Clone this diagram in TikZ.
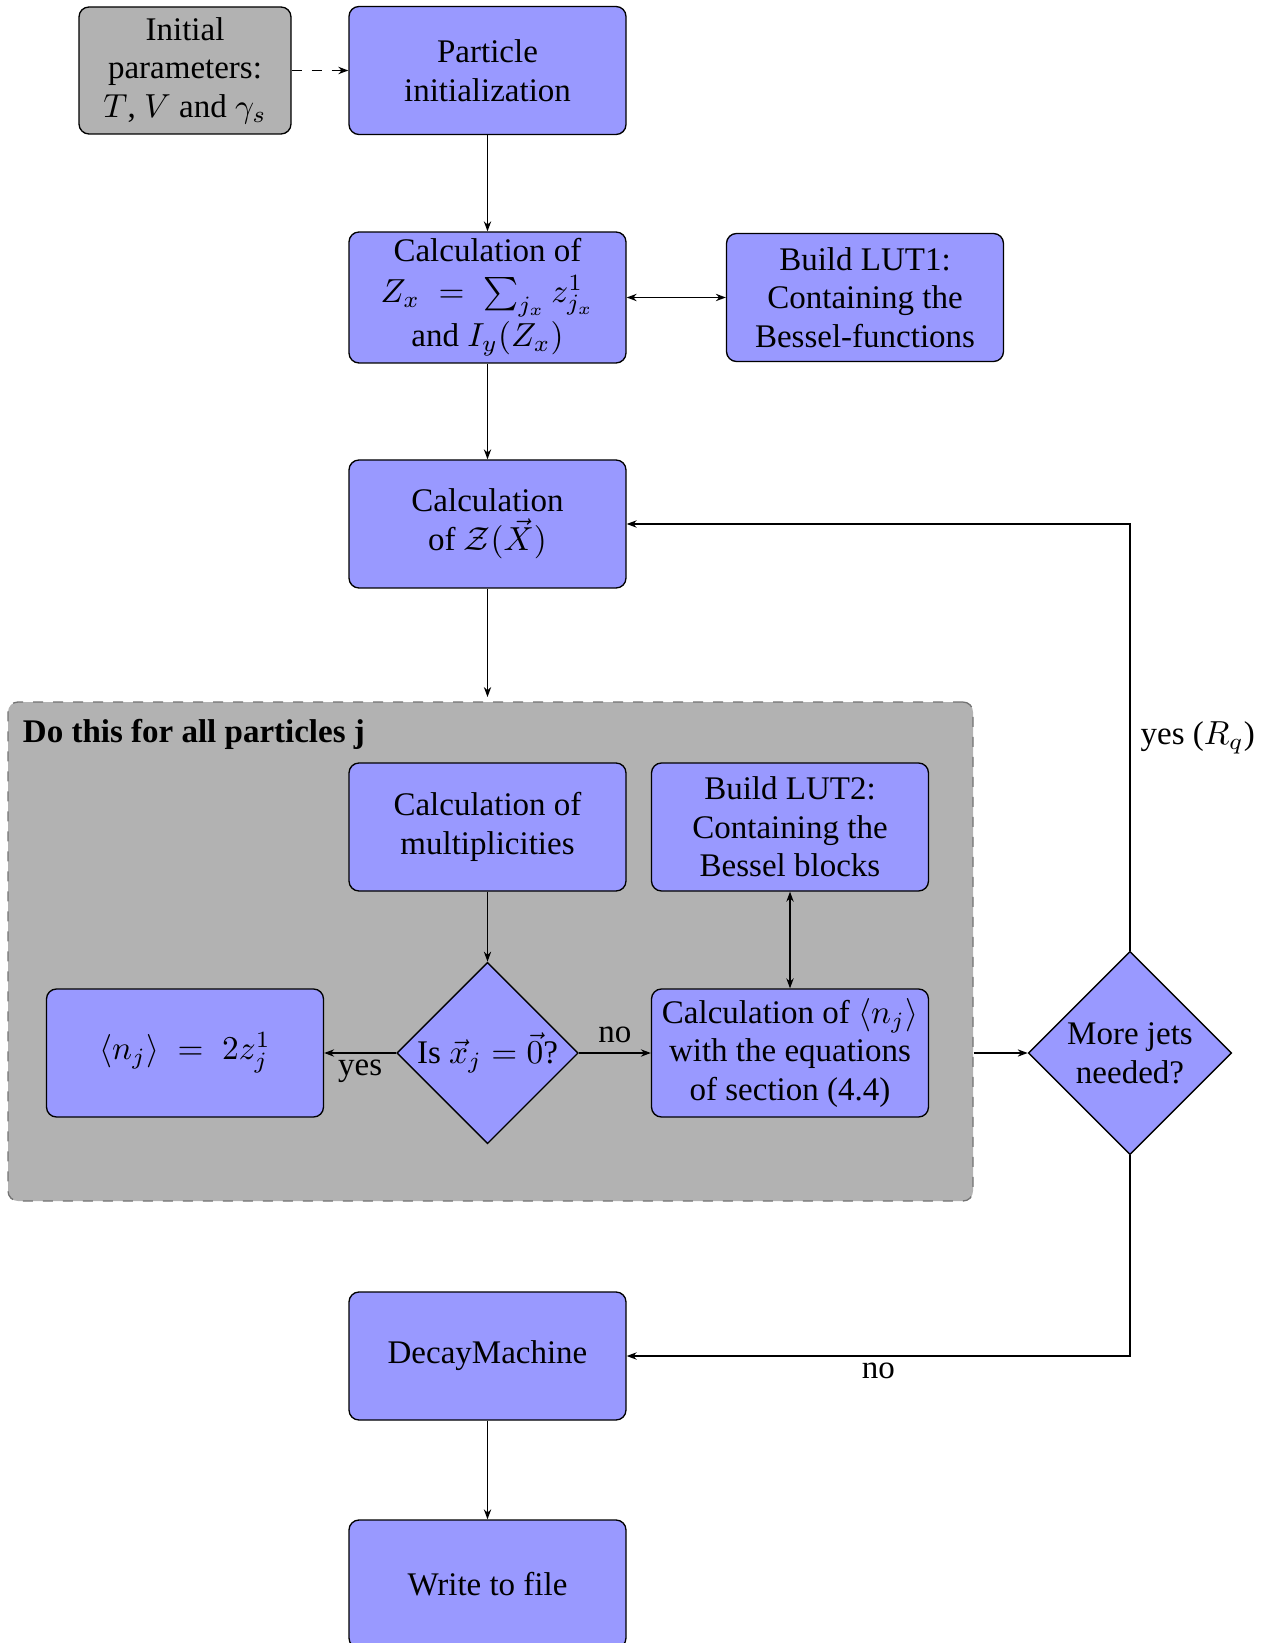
\documentclass[tikz,border=0pt]{standalone}
\usepackage[no-math]{fontspec}
\setmainfont{Liberation Serif}
\usetikzlibrary{shapes.geometric,arrows.meta}
\begin{document}
\begin{tikzpicture}[x=0.3pt,y=-0.3pt,
  font=\fontsize{9.9}{11.6}\selectfont,
  arr/.style={-{Stealth[length=3pt,width=2.2pt]}},
  darr/.style={{Stealth[length=3pt,width=2.2pt]}-{Stealth[length=3pt,width=2.2pt]}},
  box/.style={draw, rounded corners=3pt, fill=blue!40, minimum width=83.1pt, minimum height=38.4pt, align=center, inner sep=2pt},
  graybox/.style={draw, rounded corners=3pt, fill=gray!60, minimum width=63.6pt, minimum height=38.1pt, align=center, inner sep=2pt},
  dec/.style={draw, diamond, aspect=1, fill=blue!40, align=center, inner sep=0pt},
  region/.style={draw=gray!90!black, dashed, rounded corners=3pt, fill=gray!60, minimum width=289.5pt, minimum height=149.7pt}
]
\useasboundingbox (0,0) rectangle (1265,1643);

\node[region] (region) at (490.5,951.5) {};
\node[anchor=west, inner sep=1pt, font=\fontsize{9.9}{12}\selectfont\bfseries] (title) at (19,734) {Do this for all particles j};

\node[graybox] (init) at (185,70.5) {Initial\\parameters:\\$T$, $V$ and $\gamma_s$};
\node[box] (part) at (487.5,70.5) {Particle\\initialization};
\node[box] (zx) at (487.5,297.5) {Calculation of\\[0.5pt]$Z_x\;=\;\sum_{j_x} z_{j_x}^1$\\[0.5pt]and $I_y(Z_x)$};
\node[box] (lut1) at (865,297.5) {Build LUT1:\\Containing the\\Bessel-functions};
\node[box] (zX) at (487.5,524) {Calculation\\of $\mathcal{Z}(\vec{X})$};
\node[box] (mult) at (487.5,827) {Calculation of\\multiplicities};
\node[box] (lut2) at (790,827) {Build LUT2:\\Containing the\\Bessel blocks};
\node[box] (nj) at (185,1053) {$\langle n_j\rangle\;=\;2z_j^1$};
\node[dec, minimum size=54pt] (isx) at (487.5,1053) {Is $\vec{x}_j=\vec{0}$?};
\node[box] (cnj) at (790,1053) {Calculation of $\langle n_j\rangle$\\with the equations\\of section (4.4)};
\node[dec, minimum size=61pt] (jets) at (1130,1053) {More jets\\needed?};
\node[box] (decay) at (487.5,1356) {DecayMachine};
\node[box] (write) at (487.5,1584) {Write to file};

\coordinate (rtop) at (487.5,697);

\draw[arr, dashed] (init) -- (part);
\draw[arr] (part) -- (zx);
\draw[darr] (zx) -- (lut1);
\draw[arr] (zx) -- (zX);
\draw[arr] (zX) -- (rtop);
\draw[arr] (mult) -- (isx);
\draw[arr] (isx) -- node[below, inner sep=2pt] {yes} (nj);
\draw[arr] (isx) -- node[above, inner sep=3pt] {no} (cnj);
\draw[darr] (lut2) -- (cnj);
\draw[arr] (region.east |- jets.west) -- (jets.west);
\draw[arr] (jets.north) |- node[pos=0.25, right, inner sep=3pt] {yes ($R_q$)} (zX.east);
\draw[arr] (jets.south) |- node[pos=0.75, below, inner sep=2pt] {no} (decay.east);
\draw[arr] (decay) -- (write);
\end{tikzpicture}
\end{document}
